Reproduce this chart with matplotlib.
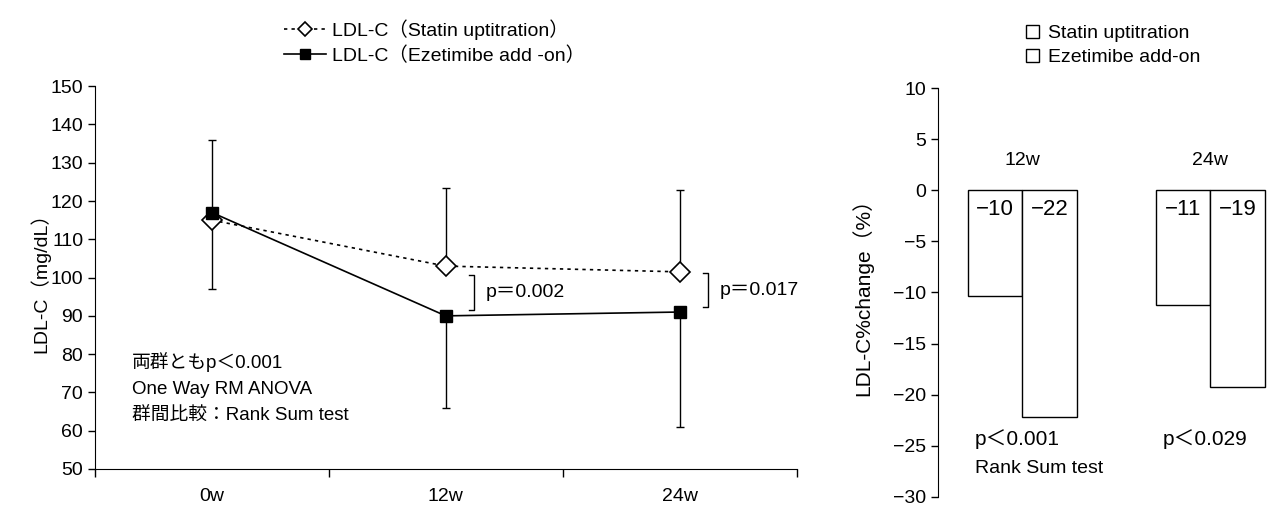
import matplotlib.pyplot as plt
import numpy as np

plt.rcParams['font.family'] = ['Liberation Sans', 'Noto Sans CJK JP', 'DejaVu Sans']

# LDL-C time course (mean, one-sided SD)
weeks = ['0w', '12w', '24w']
statin_mean = [115, 103, 101.5]
statin_sd = [21, 20.5, 21.5]
ezetimibe_mean = [117, 90, 91]
ezetimibe_sd = [20, 24, 30]

# p values between groups at 12w / 24w
pair_p = ['p＝0.002', 'p＝0.017']
bracket_top = [100.7, 101.2]
bracket_bottom = [91.5, 92.3]

# percent change bars
change_groups = ['12w', '24w']
statin_change = [-10.3, -11.2]
ezetimibe_change = [-22.2, -19.3]
change_p = ['p＜0.001', 'p＜0.029']

fig = plt.figure(figsize=(12.71, 5.07), dpi=100)

# ---- left panel: line chart ----
ax = fig.add_axes([0.0747, 0.075, 0.552, 0.755])
x = np.arange(len(weeks))

ax.errorbar(x, statin_mean, yerr=[np.zeros(3), statin_sd], fmt='none',
            ecolor='black', elinewidth=1.0, capsize=3, capthick=1.0)
ax.errorbar(x, ezetimibe_mean, yerr=[ezetimibe_sd, np.zeros(3)], fmt='none',
            ecolor='black', elinewidth=1.0, capsize=3, capthick=1.0)
ax.plot(x, statin_mean, linestyle=(0, (2, 2.5)), color='black', linewidth=1.2,
        marker='D', markersize=10, markerfacecolor='white', markeredgecolor='black',
        markeredgewidth=1.2, label='LDL-C（Statin uptitration）', zorder=3)
ax.plot(x, ezetimibe_mean, linestyle='-', color='black', linewidth=1.2,
        marker='s', markersize=9, markerfacecolor='black', markeredgecolor='black',
        label='LDL-C（Ezetimibe add -on）', zorder=3)

ax.set_xlim(-0.5, 2.5)
ax.set_ylim(50, 150)
ax.set_yticks(np.arange(50, 151, 10))
ax.set_xticks(x)
ax.set_xticklabels(weeks, fontsize=14)
ax.set_xticks([-0.5, 0.5, 1.5, 2.5], minor=True)
ax.tick_params(axis='x', which='major', length=0, pad=14)
ax.tick_params(axis='x', which='minor', length=6, width=1.0, direction='out')
ax.tick_params(axis='y', length=5, width=1.0, labelsize=14)
for s in ['top', 'right']:
    ax.spines[s].set_visible(False)
ax.set_ylabel('LDL-C（mg/dL）', fontsize=14, labelpad=0)

# brackets with p values
for i, (top, bot, txt) in enumerate(zip(bracket_top, bracket_bottom, pair_p)):
    bx = x[i + 1] + 0.12
    ax.plot([bx - 0.02, bx, bx, bx - 0.02], [top, top, bot, bot],
            color='black', linewidth=1.0)
    ax.text(bx + 0.05, (top + bot) / 2, txt, fontsize=14, va='center', ha='left')

ax.text(-0.34, 78, '両群ともp＜0.001', fontsize=13.5, va='center')
ax.text(-0.34, 70.8, 'One Way RM ANOVA', fontsize=13.5, va='center')
ax.text(-0.34, 63.7, '群間比較：Rank Sum test', fontsize=13.5, va='center')

ax.legend(loc='lower left', bbox_to_anchor=(0.255, 1.03), frameon=False,
          fontsize=14, handlelength=2.2, labelspacing=0.35, borderpad=0,
          markerscale=0.75, handletextpad=0.3)

# ---- right panel: bar chart ----
bx_ax = fig.add_axes([0.738, 0.02, 0.262, 0.8064])
gx = np.arange(len(change_groups))
w = 0.29
bars1 = bx_ax.bar(gx - w / 2, statin_change, width=w, facecolor='white',
                  edgecolor='black', linewidth=1.0, label='Statin uptitration')
bars2 = bx_ax.bar(gx + w / 2, ezetimibe_change, width=w, facecolor='white',
                  edgecolor='black', linewidth=1.0, label='Ezetimibe add-on')

for bars, vals in [(bars1, statin_change), (bars2, ezetimibe_change)]:
    for b, v in zip(bars, vals):
        bx_ax.text(b.get_x() + b.get_width() / 2, -1.9, '−%d' % round(abs(v)),
                   ha='center', va='center', fontsize=16)

for g, lab in zip(gx, change_groups):
    bx_ax.text(g, 2.9, lab, ha='center', va='center', fontsize=14)

for g, txt in zip(gx, change_p):
    bx_ax.text(g - 0.25, -24.3, txt, ha='left', va='center', fontsize=15)
bx_ax.text(-0.25, -27.2, 'Rank Sum test', ha='left', va='center', fontsize=14)

bx_ax.set_xlim(-0.447, 1.324)
bx_ax.set_ylim(-30, 10)
bx_ax.set_yticks(np.arange(-30, 11, 5))
bx_ax.set_yticklabels(['−%d' % -t if t < 0 else str(t) for t in np.arange(-30, 11, 5)])
bx_ax.set_xticks([])
bx_ax.tick_params(axis='y', length=5, width=1.0, labelsize=14)
for s in ['top', 'right', 'bottom']:
    bx_ax.spines[s].set_visible(False)
bx_ax.set_ylabel('LDL-C%change（%）', fontsize=15, labelpad=14)

bx_ax.legend(loc='lower left', bbox_to_anchor=(0.235, 1.03), frameon=False,
             fontsize=14, handlelength=0.65, handleheight=0.65, labelspacing=0.35,
             borderpad=0, handletextpad=0.5)

fig.savefig('out.png', dpi=100)
